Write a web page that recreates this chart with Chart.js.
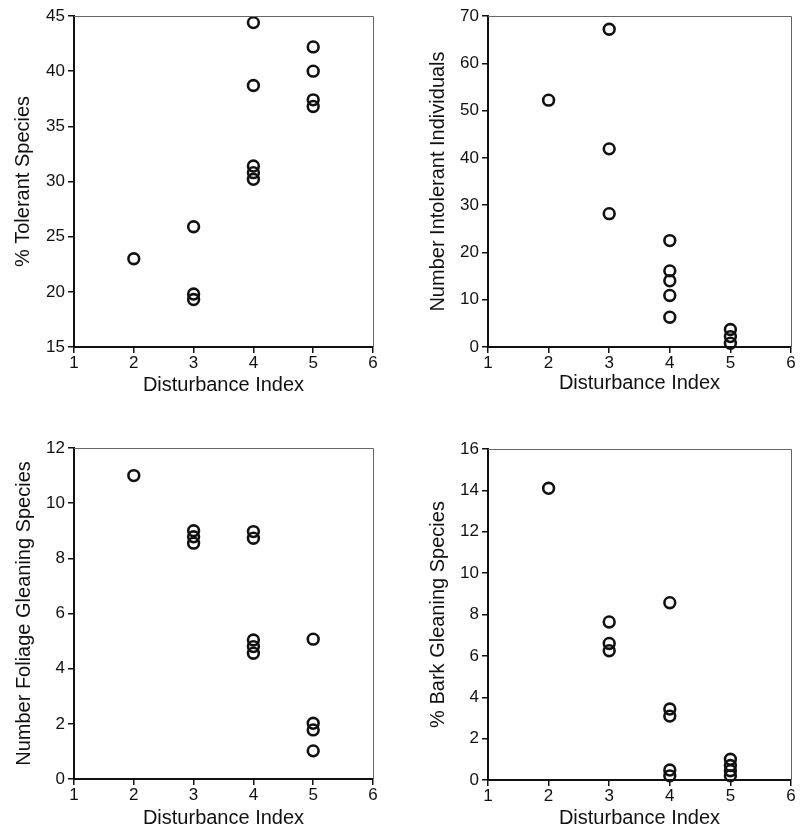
<!DOCTYPE html>
<html>
<head>
<meta charset="utf-8">
<script src="https://cdn.jsdelivr.net/npm/chart.js@4.4.0/dist/chart.umd.min.js"></script>
<style>
  body { margin: 0; background: #fff; }
  canvas { position: absolute; }
</style>
</head>
<body>
<canvas id="c1" width="400" height="400" style="left:0;top:0"></canvas>
<canvas id="c2" width="401" height="400" style="left:400px;top:0"></canvas>
<canvas id="c3" width="400" height="420" style="left:0;top:410px"></canvas>
<canvas id="c4" width="401" height="420" style="left:400px;top:410px"></canvas>
<script>
// disturbance index of each site, per panel
const tolerantX = [2, 3, 3, 3, 4, 4, 4, 4, 4, 5, 5, 5, 5];
const tolerantY = [23.0, 25.9, 19.8, 19.3, 44.4, 38.7, 31.4, 30.8, 30.2, 42.2, 40.0, 37.4, 36.8];

const intolerantX = [2, 3, 3, 3, 4, 4, 4, 4, 4, 5, 5, 5];
const intolerantY = [52.2, 67.2, 41.9, 28.2, 22.5, 16.1, 14.0, 10.9, 6.3, 3.7, 2.2, 0.8];

const foliageX = [2, 3, 3, 3, 4, 4, 4, 4, 4, 5, 5, 5, 5];
const foliageY = [11.0, 9.0, 8.78, 8.55, 8.97, 8.73, 5.04, 4.8, 4.56, 5.07, 2.02, 1.78, 1.02];

const barkX = [2, 3, 3, 3, 4, 4, 4, 4, 4, 5, 5, 5, 5];
const barkY = [14.1, 7.64, 6.6, 6.25, 8.57, 3.43, 3.09, 0.48, 0.2, 1.0, 0.7, 0.45, 0.2];

const xTicks = [1, 2, 3, 4, 5, 6];

const FONT = 'Liberation Sans, Arial, Helvetica, sans-serif';

// thin top/right frame lines like the scanned figure
const framePlugin = {
  id: 'frame',
  afterDraw(chart) {
    const { ctx, chartArea: a } = chart;
    ctx.save();
    ctx.strokeStyle = '#666';
    ctx.lineWidth = 1;
    ctx.beginPath();
    ctx.moveTo(a.left, a.top + 0.5);
    ctx.lineTo(a.right + 0.5, a.top + 0.5);
    ctx.lineTo(a.right + 0.5, a.bottom);
    ctx.stroke();
    ctx.restore();
  }
};

function makeChart(id, xs, ys, yMin, yMax, yStep, yTitle, p) {
  const pts = xs.map((x, i) => ({ x, y: ys[i] }));
  return new Chart(document.getElementById(id), {
    type: 'scatter',
    data: { datasets: [{
      data: pts,
      pointStyle: 'circle',
      pointRadius: 5.4,
      pointBorderWidth: 2.6,
      borderColor: '#111',
      backgroundColor: 'rgba(255,255,255,0)',
      clip: 8
    }]},
    options: {
      responsive: false,
      animation: false,
      layout: { padding: { left: 0, right: p.right, top: p.top, bottom: 0 } },
      plugins: { legend: { display: false }, tooltip: { enabled: false } },
      scales: {
        x: {
          type: 'linear', min: 1, max: 6,
          afterBuildTicks: s => { s.ticks = xTicks.map(v => ({ value: v })); },
          afterFit: s => { s.height = p.xh; },
          border: { display: true, color: '#111', width: 2 },
          grid: { drawOnChartArea: false, drawTicks: true, tickLength: 6, color: '#111', lineWidth: 1.5 },
          ticks: { color: '#111', padding: 0, font: { family: FONT, size: 17 } },
          title: { display: true, text: 'Disturbance Index', color: '#111',
                   font: { family: FONT, size: 20 }, padding: { top: 0, bottom: p.xtb } }
        },
        y: {
          type: 'linear', min: yMin, max: yMax,
          ticks: { stepSize: yStep, color: '#111', padding: 3, font: { family: FONT, size: 17 } },
          afterFit: s => { s.width = p.yw; },
          border: { display: true, color: '#111', width: 2 },
          grid: { drawOnChartArea: false, drawTicks: true, tickLength: 6, color: '#111', lineWidth: 1.5 },
          title: { display: true, text: yTitle, color: '#111',
                   font: { family: FONT, size: 20 }, padding: { top: p.ytp, bottom: 0 } }
        }
      }
    },
    plugins: [framePlugin]
  });
}

makeChart('c1', tolerantX, tolerantY, 15, 45, 5, '% Tolerant Species',
  { top: 16, right: 27, xh: 53, yw: 74, xtb: 3, ytp: 11 });
makeChart('c2', intolerantX, intolerantY, 0, 70, 10, 'Number Intolerant Individuals',
  { top: 16, right: 10, xh: 53, yw: 88, xtb: 5, ytp: 26 });
makeChart('c3', foliageX, foliageY, 0, 12, 2, 'Number Foliage Gleaning Species',
  { top: 38, right: 27, xh: 51, yw: 74, xtb: 0, ytp: 12 });
makeChart('c4', barkX, barkY, 0, 16, 2, '% Bark Gleaning Species',
  { top: 39, right: 10, xh: 50, yw: 88, xtb: 0, ytp: 26 });
</script>
</body>
</html>
